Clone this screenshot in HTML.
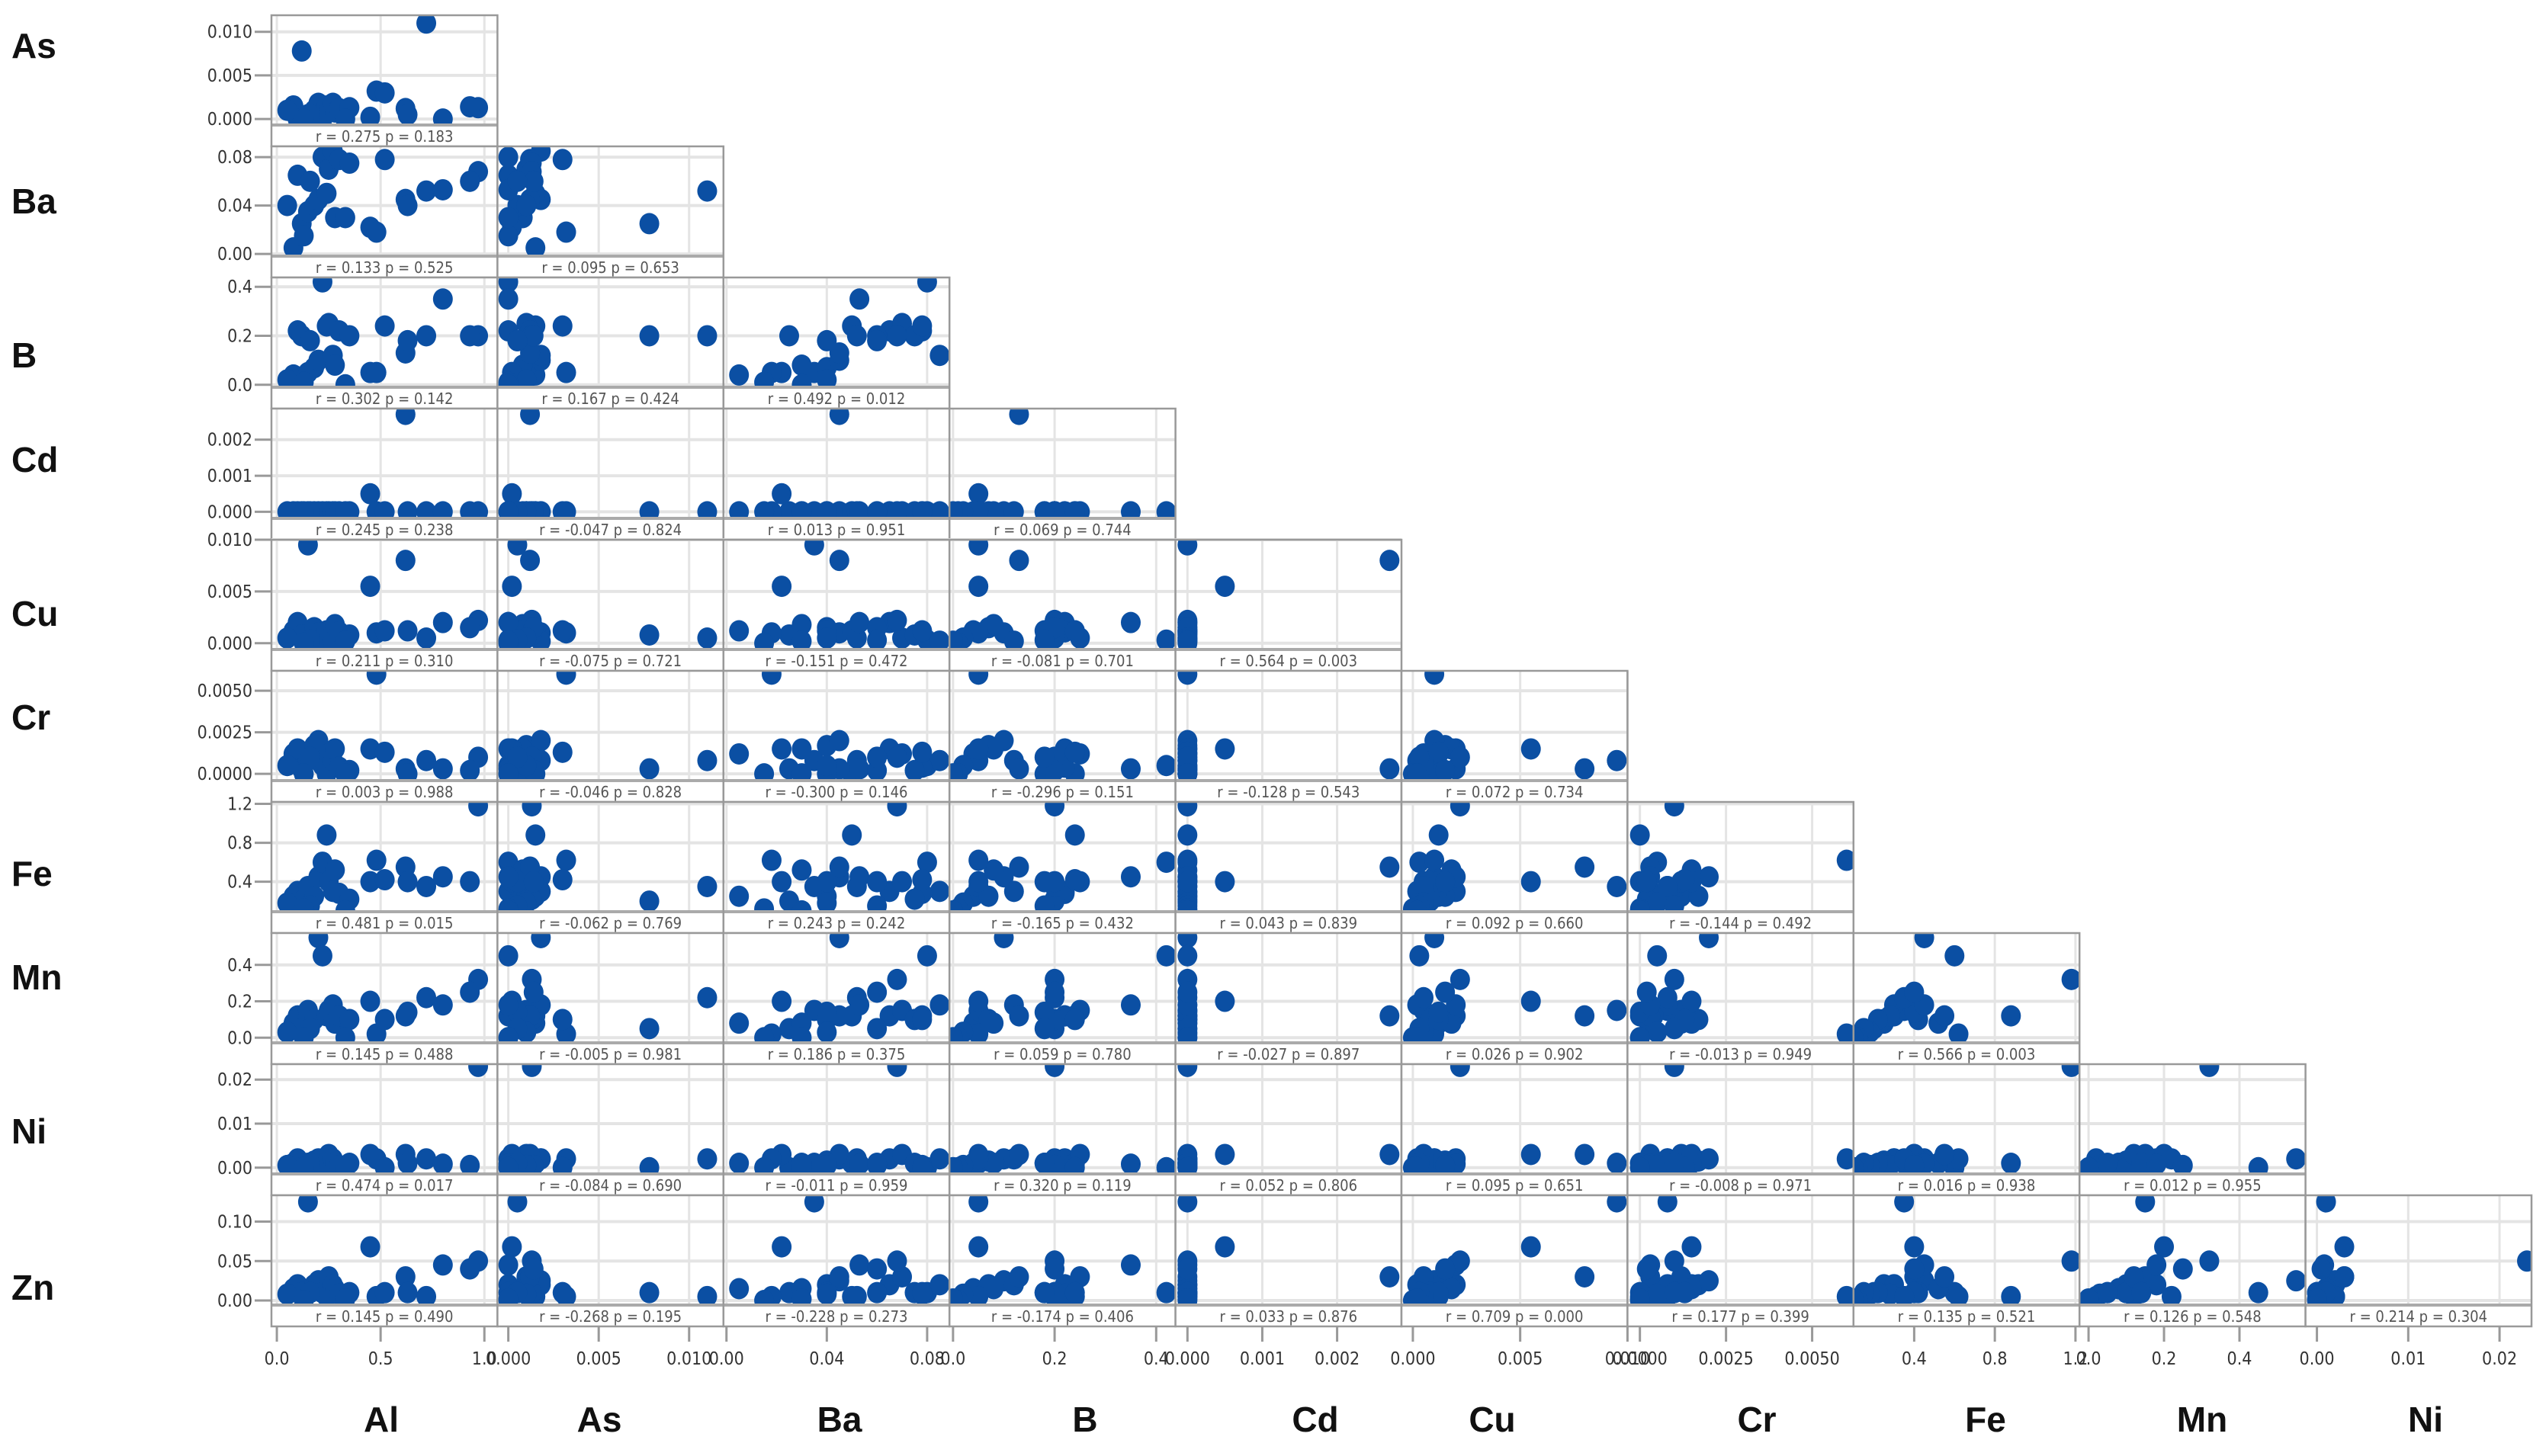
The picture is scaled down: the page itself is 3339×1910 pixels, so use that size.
<!DOCTYPE html>
<html><head><meta charset="utf-8"><style>
html,body{margin:0;padding:0;background:#fff;}
svg{display:block;}
</style></head><body>
<svg id="chart" xmlns="http://www.w3.org/2000/svg" width="3339" height="1910" viewBox="0 0 3339 1910"></svg>
<script>
// ---- data ----
const vars = ["Al","As","Ba","B","Cd","Cu","Cr","Fe","Mn","Ni","Zn"];
const Al = [0.08,0.10,0.12,0.15,0.18,0.20,0.22,0.24,0.25,0.27,0.28,0.30,0.35,0.45,0.48,0.52,0.62,0.63,0.72,0.80,0.97,0.93,0.05,0.16,0.13,0.33];
const As = [0.0015,0.0000,0.0078,0.0005,0.0010,0.0018,0.0000,0.0015,0.0010,0.0018,0.0008,0.0012,0.0013,0.0002,0.0032,0.0030,0.0012,0.0005,0.0110,0.0000,0.0013,0.0014,0.0010,0.0005,0.0000,0.0000];
const Ba = [0.005,0.065,0.025,0.035,0.040,0.045,0.080,0.050,0.070,0.085,0.030,0.078,0.075,0.022,0.018,0.078,0.045,0.040,0.052,0.053,0.068,0.060,0.040,0.060,0.015,0.030];
const B  = [0.04,0.22,0.20,0.05,0.07,0.10,0.42,0.24,0.25,0.12,0.08,0.22,0.20,0.05,0.05,0.24,0.13,0.18,0.20,0.35,0.20,0.20,0.02,0.18,0.01,0.00];
const Cd = [0,0,0,0,0,0,0,0,0,0,0,0,0,0.0005,0,0,0.0027,0,0,0,0,0,0,0,0,0];
const Cu = [0.0012,0.0020,0.0008,0.0095,0.0015,0.0010,0.0003,0.0012,0.0005,0.0002,0.0018,0.0011,0.0008,0.0055,0.0010,0.0012,0.0080,0.0012,0.0005,0.0020,0.0022,0.0015,0.0005,0.0003,0.0000,0.0002];
const Cr = [0.0012,0.0015,0.0003,0.0008,0.0017,0.0020,0.0005,0.0000,0.0012,0.0008,0.0015,0.0004,0.0002,0.0015,0.0060,0.0013,0.0003,0.0000,0.0008,0.0003,0.0010,0.0002,0.0005,0.0010,0.0000,0.0000];
const Fe = [0.25,0.30,0.20,0.35,0.25,0.45,0.60,0.88,0.40,0.30,0.52,0.28,0.22,0.40,0.62,0.42,0.55,0.40,0.35,0.45,1.18,0.40,0.18,0.15,0.12,0.10];
const Mn = [0.08,0.12,0.05,0.15,0.10,0.55,0.45,0.12,0.15,0.18,0.08,0.12,0.10,0.20,0.02,0.10,0.12,0.14,0.22,0.18,0.32,0.25,0.03,0.05,0.00,0.00];
const Ni = [0.001,0.002,0.000,0.001,0.0015,0.002,0.000,0.001,0.003,0.002,0.001,0.0005,0.001,0.003,0.002,0.000,0.003,0.001,0.002,0.0008,0.023,0.0005,0.0005,0.001,0.000,0.000];
const Zn = [0.015,0.02,0.01,0.125,0.02,0.025,0.01,0.005,0.03,0.02,0.015,0.008,0.01,0.068,0.005,0.01,0.03,0.01,0.005,0.045,0.05,0.04,0.008,0.01,0.0,0.002];
const domLo = [-0.026,-0.0006,-0.0012,-0.007,-0.00016,-0.00053,-0.00036,0.099,-0.024,-0.00125,-0.0048];
const domHi = [1.063,0.0119,0.0889,0.438,0.00286,0.0100,0.0062,1.22,0.575,0.0235,0.1333];
const tickVals = [[0,0.5,1.0],[0,0.005,0.010],[0,0.04,0.08],[0,0.2,0.4],[0,0.001,0.002],[0,0.005,0.010],[0,0.0025,0.0050],[0.4,0.8,1.2],[0,0.2,0.4],[0,0.01,0.02],[0,0.05,0.10]];
const tickLbls = [["0.0","0.5","1.0"],["0.000","0.005","0.010"],["0.00","0.04","0.08"],["0.0","0.2","0.4"],["0.000","0.001","0.002"],["0.000","0.005","0.010"],["0.0000","0.0025","0.0050"],["0.4","0.8","1.2"],["0.0","0.2","0.4"],["0.00","0.01","0.02"],["0.00","0.05","0.10"]];
const rVals = [["0.275"],["0.133","0.095"],["0.302","0.167","0.492"],["0.245","-0.047","0.013","0.069"],["0.211","-0.075","-0.151","-0.081","0.564"],["0.003","-0.046","-0.300","-0.296","-0.128","0.072"],["0.481","-0.062","0.243","-0.165","0.043","0.092","-0.144"],["0.145","-0.005","0.186","0.059","-0.027","0.026","-0.013","0.566"],["0.474","-0.084","-0.011","0.320","0.052","0.095","-0.008","0.016","0.012"],["0.145","-0.268","-0.228","-0.174","0.033","0.709","0.177","0.135","0.126","0.214"]];
const pVals = [["0.183"],["0.525","0.653"],["0.142","0.424","0.012"],["0.238","0.824","0.951","0.744"],["0.310","0.721","0.472","0.701","0.003"],["0.988","0.828","0.146","0.151","0.543","0.734"],["0.015","0.769","0.242","0.432","0.839","0.660","0.492"],["0.488","0.981","0.375","0.780","0.897","0.902","0.949","0.003"],["0.017","0.690","0.959","0.119","0.806","0.651","0.971","0.938","0.955"],["0.490","0.195","0.273","0.406","0.876","0.000","0.399","0.521","0.548","0.304"]];
const series = [Al,As,Ba,B,Cd,Cu,Cr,Fe,Mn,Ni,Zn];
const rowLabelY = [60,264,466,603,805,941,1146,1282,1484,1689];
const colLabelX = [500,786,1101,1423,1725,1957,2304,2604,2888,3181];

// ---- layout ----
const NS="http://www.w3.org/2000/svg";
const svg=document.getElementById('chart');
const X0=356, CW=296.4, Y0=20, RH=172, PH=143;
const FONT='"Liberation Sans Narrow","DejaVu Sans Condensed","Liberation Sans",sans-serif';
function mk(tag,attrs,parent){const e=document.createElementNS(NS,tag);for(const k in attrs)e.setAttribute(k,attrs[k]);(parent||svg).appendChild(e);return e;}
function sx(v,j){return X0+j*CW+(v-domLo[j])/(domHi[j]-domLo[j])*CW;}
function sy(v,k,i){const top=Y0+i*RH;return top+PH-(v-domLo[k])/(domHi[k]-domLo[k])*PH;}
const defs=mk('defs',{});

for(let i=0;i<10;i++){
  const k=i+1, top=Y0+i*RH;
  const rl=mk('text',{x:15,y:rowLabelY[i]+16,'font-family':'"Liberation Sans",sans-serif','font-size':46,'font-weight':'bold',fill:'#111'});
  
  
  rl.textContent=vars[k];
  // y ticks
  for(let t=0;t<3;t++){
    const yy=sy(tickVals[k][t],k,i);
    mk('line',{x1:334,x2:355,y1:yy,y2:yy,stroke:'#999','stroke-width':3});
    const tl=mk('text',{x:331,y:yy+8,'text-anchor':'end','font-family':FONT,'font-size':23,fill:'#333'});
    
    
    tl.textContent=tickLbls[k][t];
  }
  for(let j=0;j<=i;j++){
    const left=X0+j*CW;
    const g=mk('g',{});
    
    
    mk('rect',{x:left,y:top,width:CW,height:RH,fill:'#fff'},g);
    // grid
    for(let t=0;t<3;t++){
      const xx=sx(tickVals[j][t],j);
      mk('line',{x1:xx,x2:xx,y1:top,y2:top+PH,stroke:'#e4e4e4','stroke-width':3},g);
      const yy=sy(tickVals[k][t],k,i);
      mk('line',{x1:left,x2:left+CW,y1:yy,y2:yy,stroke:'#e4e4e4','stroke-width':4},g);
    }
    const cid='c'+i+'_'+j;
    const cp=mk('clipPath',{id:cid},defs);
    mk('rect',{x:left,y:top,width:CW,height:PH},cp);
    const dg=mk('g',{'clip-path':'url(#'+cid+')'},g);
    const xs=series[j], ys=series[k];
    for(let n=0;n<xs.length;n++){
      const c=mk('ellipse',{cx:sx(xs[n],j),cy:sy(ys[n],k,i),rx:13,ry:14,fill:'#0b4fa3'},dg);
      
      
    }
    mk('line',{x1:left,x2:left+CW,y1:top+PH+1,y2:top+PH+1,stroke:'#aaa','stroke-width':4},g);
    mk('rect',{x:left,y:top,width:CW,height:RH,fill:'none',stroke:'#999','stroke-width':2.5},g);
    const st=mk('text',{x:left+CW/2,y:top+PH+23,'text-anchor':'middle','font-family':FONT,'font-size':20,fill:'#555'},g);
    
    
    st.textContent='r = '+rVals[i][j]+'  p = '+pVals[i][j];
  }
}
// x ticks & column labels
const bottom=Y0+10*RH;
for(let j=0;j<10;j++){
  for(let t=0;t<3;t++){
    const xx=sx(tickVals[j][t],j);
    mk('line',{x1:xx,x2:xx,y1:bottom,y2:bottom+20,stroke:'#999','stroke-width':3});
    const tl=mk('text',{x:xx,y:bottom+50,'text-anchor':'middle','font-family':FONT,'font-size':23,fill:'#333'});
    
    
    tl.textContent=tickLbls[j][t];
  }
  const cl=mk('text',{x:colLabelX[j],y:1878,'text-anchor':'middle','font-family':'"Liberation Sans",sans-serif','font-size':46,'font-weight':'bold',fill:'#111'});
  
  
  cl.textContent=vars[j];
}
</script>
</body></html>
